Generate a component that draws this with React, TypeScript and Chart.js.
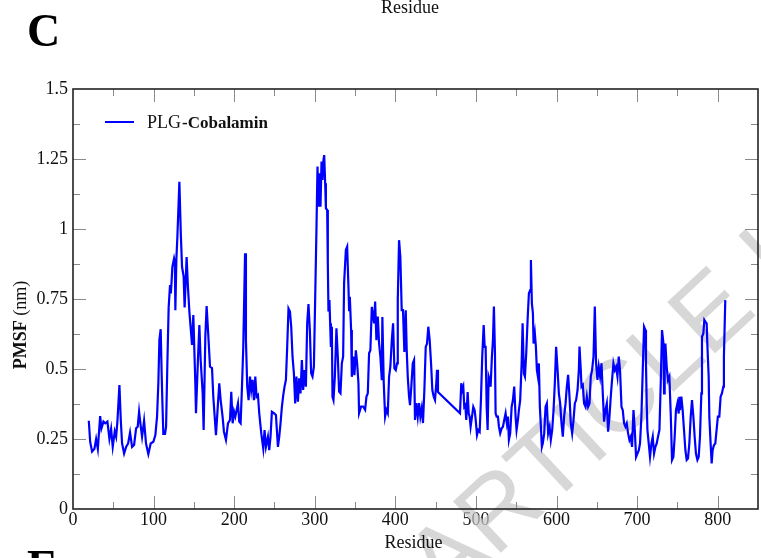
import React, { useEffect, useRef } from "react";
import { Chart, registerables } from "chart.js";

Chart.register(...registerables);

// Residue numbers (x) and PMSF values in nm (y)
const residue = [
  19.6, 21.3, 23.7, 26.6, 28.7, 30.8, 33.7, 35.3, 37.8, 40,
  42.7, 45.2, 47.3, 49.3, 51.8, 53.5, 55.1, 57.6, 59.3, 60.9,
  63.4, 65.9, 68.4, 70.8, 73.3, 75.8, 78.3, 80.3, 82, 84.1,
  85.7, 88.2, 90.6, 93.5, 96.4, 99.7, 102.2, 104.3, 105.9, 107.2,
  108.8, 110, 110.9, 112.1, 114.2, 115.5, 117.1, 118.7, 120.4, 121.4,
  122.1, 123.3, 125.4, 126.4, 127, 128.3, 129.5, 132, 133.8, 135.3,
  137.3, 138.5, 141, 142.5, 144.4, 147.7, 149.3, 151.8, 152.6, 155.1,
  156.8, 158.4, 160.9, 162.1, 164.2, 165.8, 167.5, 170, 172.5, 174.1,
  177.4, 179.9, 181.5, 183.2, 185.6, 187.3, 189.8, 192.3, 194.8, 196.4,
  198.1, 199.8, 201.4, 203, 204.7, 206.3, 208, 209.7, 211.3, 213.5,
  214.6, 216.2, 217.9, 219.6, 221.2, 222.8, 224.5, 226.2, 227.8, 229.5,
  231.1, 233.6, 236.1, 237.7, 239.4, 241.9, 243.5, 245.1, 246.8, 249.3,
  251.8, 254.3, 255.9, 257.5, 259.2, 260.9, 262.5, 264.2, 265.8, 267.4,
  269.2, 270.8, 272.4, 274.1, 275.7, 277.3, 279.1, 280.7, 282.3, 284,
  285.6, 287.2, 289, 290.6, 292.2, 293.9, 295.5, 297.2, 298.9, 300.5,
  302.1, 303.4, 304.6, 306.3, 307.1, 308.4, 309.6, 310.8, 311.7, 312.9,
  313.8, 315.4, 316.2, 317, 318.2, 319.1, 320, 321.2, 322, 323.2,
  324.9, 326.9, 328.6, 330.2, 331.9, 333.6, 335.2, 336.4, 338.6, 340.2,
  341.8, 342.6, 343.5, 345.1, 346, 347.6, 349.2, 351, 352.6, 354.2,
  355, 357.5, 360, 362.5, 364.1, 365.8, 367.4, 369, 370.8, 372.4,
  373.6, 374.9, 376.5, 378.2, 379.8, 381.4, 383.2, 383.9, 385.6, 387.3,
  388.9, 390.6, 392.2, 393.8, 395.6, 397.2, 398.8, 400.5, 402.1, 403,
  404.6, 406.2, 407.9, 409.5, 411.2, 412.9, 414.1, 415.4, 417, 418.2,
  419.8, 421.6, 423.2, 424.4, 426, 427.8, 429.4, 431, 432.7, 434.3,
  436, 437.7, 439.3, 440.9, 442.6, 444.3, 445.9, 447.6, 449.2, 450.8,
  451.7, 452.9, 480.2, 481.8, 483, 484.3, 485.5, 486.8, 488, 489.7,
  491, 492.2, 493.4, 495.1, 496.7, 498.4, 499.7, 501.3, 502.9, 504.6,
  506.2, 507.8, 509.6, 510.8, 512, 513.3, 514.5, 515.8, 517, 518.2,
  519.8, 521.1, 522.3, 523.6, 524.4, 525.7, 527.3, 528.5, 530.1, 531.9,
  533.5, 535.1, 536.8, 538.4, 539.7, 540.9, 542.5, 544.3, 545.9, 547.5,
  549.2, 550.4, 552.1, 553.3, 554.9, 556.7, 557.9, 559.5, 560.8, 562.4,
  564.1, 565.7, 567.3, 568.2, 569.4, 570.7, 571.5, 573.1, 574.4, 575.6,
  576.9, 578.1, 579.3, 580.6, 581.8, 583, 584.7, 586.4, 588, 589.6,
  591.4, 592.9, 594.6, 596.3, 597.9, 599.5, 601.3, 602.9, 604.5, 606.2,
  607.8, 609.4, 611.2, 612.8, 614.4, 616.1, 617.7, 619.4, 621.1, 622.7,
  624.3, 626.1, 627.7, 628.5, 630.1, 631, 632.6, 634.2, 636, 637.6,
  639.2, 640.9, 642.5, 644.1, 645.9, 647.5, 649.1, 650.8, 652.4, 654.1,
  655.8, 657.4, 659, 660.7, 662.4, 664, 665.7, 667.3, 668.9, 670.6,
  672.3, 673.9, 675.6, 677.2, 678.8, 680.6, 682.2, 683.8, 685.5, 687.1,
  688.8, 690.5, 692.1, 693.7, 695.5, 697.1, 698.7, 700.4, 702.1, 703.6,
  705.3, 707, 708.6, 710.3, 711, 711.9, 712.8, 714.4, 716, 717.8,
  719.4, 721, 722.7, 724.3, 725.9, 727.7, 729.3, 730.9, 732.7, 733.4,
  734.2, 735.1, 736.7, 738.3, 740, 741.7, 743.3, 745, 746.6, 748.2,
  750, 751.6, 752.4, 753.2, 754.9, 756.5, 758.2, 759.9, 761.5, 763.1,
  764.8, 766.5, 768.1, 769.8, 771.4, 773, 774.8, 776.4, 778, 779.7,
  780.5, 782.2, 783.4, 784.7, 786.3, 787.1, 788.8, 789.6, 791.2, 792.5,
  793.7, 795.3, 797, 798.6, 800.2, 802, 803.6, 805.2, 807, 807.7, 809.4,
];

const pmsf = [
  0.315, 0.24, 0.205, 0.215, 0.25, 0.215, 0.332, 0.288, 0.312, 0.306,
  0.312, 0.25, 0.286, 0.222, 0.277, 0.258, 0.312, 0.443, 0.318, 0.234,
  0.198, 0.222, 0.234, 0.273, 0.222, 0.229, 0.288, 0.294, 0.348, 0.294,
  0.258, 0.315, 0.234, 0.196, 0.234, 0.24, 0.264, 0.33, 0.449, 0.604,
  0.642, 0.484, 0.383, 0.268, 0.268, 0.294, 0.52, 0.72, 0.8, 0.77,
  0.8, 0.865, 0.895, 0.88, 0.71, 0.895, 0.97, 1.169, 0.98, 0.865,
  0.83, 0.72, 0.9, 0.8, 0.705, 0.586, 0.693, 0.448, 0.342, 0.538,
  0.657, 0.532, 0.414, 0.282, 0.615, 0.725, 0.64, 0.508, 0.503, 0.401,
  0.264, 0.377, 0.449, 0.39, 0.33, 0.276, 0.247, 0.306, 0.318, 0.419,
  0.306, 0.348, 0.33, 0.353, 0.377, 0.312, 0.306, 0.437, 0.58, 0.913,
  0.604, 0.437, 0.389, 0.473, 0.425, 0.461, 0.389, 0.473, 0.401, 0.407,
  0.342, 0.27, 0.216, 0.282, 0.222, 0.258, 0.21, 0.258, 0.347, 0.342,
  0.336, 0.222, 0.258, 0.306, 0.365, 0.407, 0.437, 0.461, 0.58, 0.716,
  0.705, 0.65, 0.544, 0.485, 0.377, 0.473, 0.383, 0.467, 0.413, 0.532,
  0.425, 0.496, 0.437, 0.663, 0.732, 0.639, 0.485, 0.473, 0.508, 0.75,
  1.0, 1.223, 1.08, 1.199, 1.08, 1.241, 1.175, 1.247, 1.264, 1.163,
  1.074, 1.068, 0.877, 0.705, 0.746, 0.663, 0.579, 0.651, 0.401, 0.389,
  0.472, 0.645, 0.544, 0.419, 0.413, 0.52, 0.544, 0.806, 0.925, 0.937,
  0.794, 0.71, 0.758, 0.639, 0.472, 0.544, 0.478, 0.567, 0.52, 0.449,
  0.342, 0.366, 0.366, 0.354, 0.401, 0.413, 0.556, 0.567, 0.722, 0.687,
  0.663, 0.741, 0.603, 0.687, 0.592, 0.544, 0.46, 0.686, 0.449, 0.33,
  0.354, 0.342, 0.472, 0.508, 0.603, 0.663, 0.502, 0.496, 0.52, 0.746,
  0.96, 0.9, 0.71, 0.71, 0.561, 0.71, 0.567, 0.472, 0.401, 0.371,
  0.437, 0.52, 0.532, 0.318, 0.378, 0.33, 0.378, 0.33, 0.36, 0.307,
  0.425, 0.579, 0.591, 0.651, 0.603, 0.52, 0.425, 0.401, 0.389, 0.449,
  0.497, 0.418, 0.342, 0.449, 0.425, 0.437, 0.365, 0.371, 0.318, 0.418,
  0.342, 0.33, 0.294, 0.33, 0.365, 0.353, 0.318, 0.264, 0.282, 0.276,
  0.389, 0.544, 0.657, 0.579, 0.579, 0.365, 0.282, 0.473, 0.461, 0.437,
  0.544, 0.603, 0.723, 0.556, 0.342, 0.33, 0.33, 0.294, 0.27, 0.288,
  0.294, 0.318, 0.342, 0.306, 0.33, 0.247, 0.27, 0.365, 0.389, 0.437,
  0.33, 0.282, 0.318, 0.353, 0.389, 0.52, 0.663, 0.484, 0.473, 0.556,
  0.675, 0.77, 0.782, 0.889, 0.734, 0.699, 0.591, 0.627, 0.579, 0.497,
  0.473, 0.52, 0.365, 0.294, 0.222, 0.235, 0.27, 0.365, 0.377, 0.27,
  0.294, 0.247, 0.282, 0.353, 0.449, 0.579, 0.497, 0.413, 0.377, 0.306,
  0.258, 0.33, 0.377, 0.437, 0.479, 0.401, 0.306, 0.27, 0.318, 0.377,
  0.389, 0.425, 0.496, 0.58, 0.496, 0.437, 0.443, 0.377, 0.365, 0.401,
  0.365, 0.377, 0.473, 0.496, 0.544, 0.723, 0.52, 0.461, 0.508, 0.473,
  0.52, 0.413, 0.312, 0.353, 0.377, 0.276, 0.33, 0.401, 0.461, 0.52,
  0.496, 0.508, 0.473, 0.544, 0.496, 0.365, 0.353, 0.306, 0.294, 0.306,
  0.27, 0.246, 0.258, 0.222, 0.353, 0.282, 0.186, 0.198, 0.21, 0.234,
  0.33, 0.496, 0.651, 0.639, 0.52, 0.377, 0.282, 0.234, 0.186, 0.234,
  0.258, 0.198, 0.222, 0.234, 0.258, 0.282, 0.449, 0.639, 0.591, 0.413,
  0.496, 0.591, 0.508, 0.461, 0.473, 0.341, 0.175, 0.186, 0.258, 0.353,
  0.377, 0.341, 0.401, 0.353, 0.401, 0.353, 0.282, 0.21, 0.175, 0.18,
  0.234, 0.33, 0.389, 0.33, 0.258, 0.198, 0.175, 0.186, 0.258, 0.413,
  0.615, 0.627, 0.675, 0.669, 0.663, 0.591, 0.473, 0.33, 0.234, 0.163,
  0.21, 0.228, 0.234, 0.282, 0.33, 0.33, 0.401, 0.413, 0.437, 0.544, 0.746,
];

const xTickValues = [0, 100, 200, 300, 400, 500, 600, 700, 800];
const yTickValues = [0, 0.25, 0.5, 0.75, 1, 1.25, 1.5];
const seriesNamePlain = "PLG";
const seriesNameBold = "-Cobalamin";
const xTitle = "Residue";
const yTitleBold = "PMSF";
const yTitlePlain = " (nm)";
const panelLetter = "C";
const nextPanelLetter = "E";
const watermark = "ARTICLE I";

const SERIF = '"Liberation Serif", "Times New Roman", serif';

const decorPlugin = {
  id: "decor",
  beforeDatasetsDraw(chart: any) {
    const { ctx } = chart;
    ctx.save();
    ctx.translate(445, 605);
    ctx.rotate((-43 * Math.PI) / 180);
    ctx.font = '102px "Liberation Sans", Arial, sans-serif';
    ctx.fillStyle = "rgba(200,200,200,0.72)";
    ctx.textBaseline = "alphabetic";
    ctx.fillText(watermark, 0, 0);
    ctx.restore();
  },
  afterDraw(chart: any) {
    const { ctx, chartArea: a } = chart;
    const xs = chart.scales.x;
    const ys = chart.scales.y;
    ctx.save();
    // inward ticks on all four sides
    ctx.strokeStyle = "#8a8a8a";
    ctx.lineWidth = 1;
    const line = (x1: number, y1: number, x2: number, y2: number) => {
      ctx.beginPath();
      ctx.moveTo(x1, y1);
      ctx.lineTo(x2, y2);
      ctx.stroke();
    };
    for (let v = xs.min; v < xs.max; v += 50) {
      if (v === xs.min) continue;
      const px = Math.round(xs.getPixelForValue(v)) + 0.5;
      const len = v % 100 === 0 ? 13 : 7;
      line(px, a.bottom, px, a.bottom - len);
      line(px, a.top, px, a.top + len);
    }
    for (let i = 1; i < 12; i++) {
      const v = i * 0.125;
      const py = Math.round(ys.getPixelForValue(v)) + 0.5;
      const len = i % 2 === 0 ? 13 : 7;
      line(a.left, py, a.left + len, py);
      line(a.right, py, a.right - len, py);
    }
    // frame
    ctx.strokeStyle = "#222";
    ctx.lineWidth = 1.6;
    ctx.strokeRect(a.left, a.top, a.right - a.left, a.bottom - a.top);

    // legend
    ctx.strokeStyle = "#0000ff";
    ctx.lineWidth = 2;
    line(105, 122, 134, 122);
    ctx.fillStyle = "#111";
    ctx.textBaseline = "alphabetic";
    ctx.textAlign = "left";
    ctx.font = `18px ${SERIF}`;
    ctx.fillText(seriesNamePlain, 147, 128);
    const w1 = ctx.measureText(seriesNamePlain).width;
    ctx.font = `bold 17px ${SERIF}`;
    ctx.fillText(seriesNameBold, 147 + w1 + 1, 128);

    // axis titles
    const cx = (a.left + a.right) / 2;
    ctx.font = `18px ${SERIF}`;
    ctx.textAlign = "center";
    ctx.fillText(xTitle, cx - 2, 548);
    ctx.fillText(xTitle, 410, 13);

    // y title rotated
    ctx.save();
    ctx.translate(26, 325);
    ctx.rotate(-Math.PI / 2);
    ctx.textAlign = "left";
    ctx.font = `bold 18px ${SERIF}`;
    const wb = ctx.measureText(yTitleBold).width;
    ctx.font = `18px ${SERIF}`;
    const wp = ctx.measureText(yTitlePlain).width;
    const start = -(wb + wp) / 2;
    ctx.font = `bold 18px ${SERIF}`;
    ctx.fillText(yTitleBold, start, 0);
    ctx.font = `18px ${SERIF}`;
    ctx.fillText(yTitlePlain, start + wb, 0);
    ctx.restore();

    // panel letters
    ctx.textAlign = "left";
    ctx.fillStyle = "#000";
    ctx.font = `bold 46px ${SERIF}`;
    ctx.fillText(panelLetter, 27, 46);
    ctx.fillText(nextPanelLetter, 27, 582);
    ctx.restore();
  },
};

export default function App() {
  const ref = useRef<HTMLCanvasElement | null>(null);

  useEffect(() => {
    if (!ref.current) return;
    const points = residue.map((r, i) => ({ x: r, y: pmsf[i] }));
    const chart = new Chart(ref.current, {
      type: "line",
      data: {
        datasets: [
          {
            label: seriesNamePlain + seriesNameBold,
            data: points,
            borderColor: "#0000ff",
            borderWidth: 2.2,
            pointRadius: 0,
            tension: 0,
            fill: false,
          },
        ],
      },
      options: {
        animation: false,
        responsive: false,
        devicePixelRatio: 1,
        layout: { padding: { left: 0, top: 89, right: 3, bottom: 19 } },
        plugins: {
          legend: { display: false },
          tooltip: { enabled: false },
        },
        scales: {
          x: {
            type: "linear",
            min: 0,
            max: 850,
            afterBuildTicks: (s: any) => {
              s.ticks = xTickValues.map((v) => ({ value: v }));
            },
            afterFit: (s: any) => {
              s.height = 30;
            },
            ticks: {
              font: { family: SERIF, size: 18 },
              color: "#111",
              padding: 0,
              maxRotation: 0,
              autoSkip: false,
              callback: (v: any) => String(v),
            },
            grid: { display: false, drawTicks: false },
            border: { display: false },
          },
          y: {
            type: "linear",
            min: 0,
            max: 1.5,
            afterBuildTicks: (s: any) => {
              s.ticks = yTickValues.map((v) => ({ value: v }));
            },
            afterFit: (s: any) => {
              s.width = 73;
            },
            ticks: {
              font: { family: SERIF, size: 18 },
              color: "#111",
              padding: 5,
              autoSkip: false,
              callback: (v: any) => String(+Number(v).toFixed(3)),
            },
            grid: { display: false, drawTicks: false },
            border: { display: false },
          },
        },
      },
      plugins: [decorPlugin],
    });
    return () => chart.destroy();
  }, []);

  return (
    <div style={{ position: "absolute", left: 0, top: 0, width: 761, height: 558, background: "#fff" }}>
      <canvas ref={ref} width={761} height={558} style={{ display: "block", width: 761, height: 558 }} />
    </div>
  );
}
